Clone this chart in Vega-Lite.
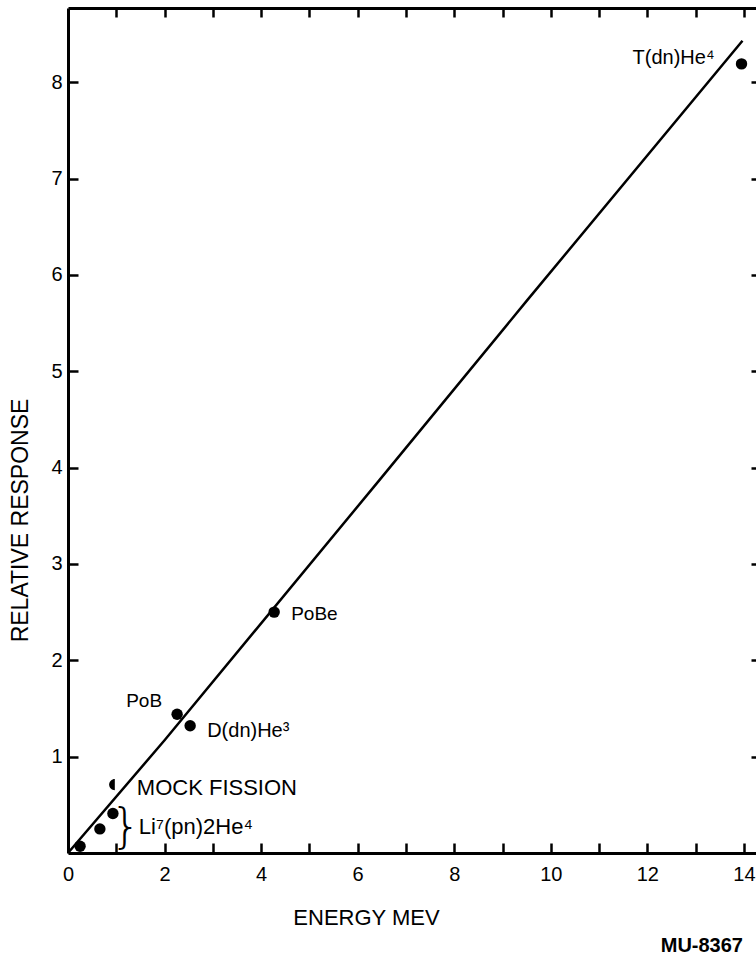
{
  "$schema": "https://vega.github.io/schema/vega-lite/v6.json",
  "width": 688,
  "height": 845,
  "autosize": {"type": "none"},
  "padding": {"left": 68, "top": 8, "right": 0, "bottom": 104},
  "background": "white",
  "title": {
    "text": "MU-8367",
    "orient": "bottom",
    "anchor": "end",
    "frame": "group",
    "font": "Liberation Sans",
    "fontSize": 20,
    "fontWeight": "bold",
    "color": "black",
    "dx": -13,
    "offset": 8
  },
  "config": {
    "view": {"stroke": null},
    "font": "Liberation Sans",
    "axis": {
      "grid": false,
      "domainColor": "black",
      "domainWidth": 3,
      "tickColor": "black",
      "tickWidth": 2.5,
      "labelColor": "black",
      "titleColor": "black",
      "labelFont": "Liberation Sans",
      "titleFont": "Liberation Sans",
      "titleFontWeight": "normal",
      "labelOverlap": false,
      "labelFlush": false
    }
  },
  "datasets": {
    "points": [
      {"energy": 0.25, "response": 0.07, "source": "Li7a", "label": ""},
      {"energy": 0.66, "response": 0.25, "source": "Li7b", "label": "Li⁷(pn)2He⁴"},
      {"energy": 0.93, "response": 0.41, "source": "Li7c", "label": ""},
      {"energy": 2.26, "response": 1.44, "source": "PoB", "label": "PoB"},
      {"energy": 2.53, "response": 1.32, "source": "DdnHe3", "label": "D(dn)He³"},
      {"energy": 4.27, "response": 2.5, "source": "PoBe", "label": "PoBe"},
      {"energy": 13.95, "response": 8.19, "source": "TdnHe4", "label": "T(dn)He⁴"}
    ],
    "mock": [
      {"energy": 0.97, "response": 0.71, "source": "Mock", "label": "MOCK FISSION"}
    ],
    "fit": [
      {"energy": 0, "response": 0},
      {"energy": 2.0, "response": 1.17},
      {"energy": 6.45, "response": 3.87},
      {"energy": 9.5, "response": 5.73},
      {"energy": 13.97, "response": 8.43}
    ]
  },
  "resolve": {"axis": {"x": "independent", "y": "independent"}},
  "layer": [
    {
      "data": {"name": "fit"},
      "mark": {"type": "line", "color": "black", "strokeWidth": 2.5},
      "encoding": {
        "x": {
          "field": "energy", "type": "quantitative",
          "scale": {"domain": [0, 14.25], "nice": false, "zero": false},
          "axis": {
            "orient": "bottom",
            "values": [0,2,4,6,8,10,12,14],
            "labelFontSize": 20,
            "ticks": false,
            "tickSize": 0,
            "labelPadding": 11,
            "title": "ENERGY MEV",
            "titleFontSize": 22,
            "titleX": 298,
            "titleY": 64,
            "titleAlign": "center",
            "titleBaseline": "middle"
          }
        },
        "y": {
          "field": "response", "type": "quantitative",
          "scale": {"domain": [0, 8.77], "nice": false, "zero": false},
          "axis": {
            "orient": "left",
            "values": [1,2,3,4,5,6,7,8],
            "labelFontSize": 20,
            "ticks": false,
            "tickSize": 0,
            "labelPadding": 6,
            "title": "RELATIVE RESPONSE",
            "titleFontSize": 23,
            "titleAngle": 270,
            "titleX": -48,
            "titleY": 512,
            "titleAlign": "center",
            "titleBaseline": "middle"
          }
        }
      }
    },
    {
      "data": {"name": "points"},
      "mark": {"type": "circle", "size": 130, "color": "black", "opacity": 1},
      "encoding": {
        "x": {
          "field": "energy", "type": "quantitative",
          "axis": {
            "orient": "top",
            "labels": false,
            "ticks": false,
            "title": null
          }
        },
        "y": {
          "field": "response", "type": "quantitative",
          "axis": {
            "orient": "right",
            "values": [1,2,3,4,5,6,7,8],
            "labels": false,
            "domain": false,
            "tickSize": 5,
            "offset": -5,
            "title": null
          }
        }
      }
    },
    {
      "data": {"name": "mock"},
      "mark": {"type": "point", "shape": "M0,-1 A1,1 0 0,0 0,1 Z", "size": 130, "filled": true, "color": "black", "opacity": 1},
      "encoding": {
        "x": {
          "field": "energy", "type": "quantitative",
          "axis": {
            "orient": "bottom",
            "values": [1,2,3,4,5,6,7,8,9,10,11,12,13,14],
            "labels": false,
            "domain": false,
            "tickSize": 10,
            "offset": -10,
            "title": null
          }
        },
        "y": {
          "field": "response", "type": "quantitative",
          "axis": {
            "orient": "left",
            "values": [1,2,3,4,5,6,7,8],
            "labels": false,
            "domain": false,
            "tickSize": 10,
            "offset": -10,
            "title": null
          }
        }
      }
    },
    {
      "data": {"name": "mock"},
      "mark": {"type": "text", "align": "left", "baseline": "middle", "dx": 22, "dy": 3, "fontSize": 22, "color": "black"},
      "encoding": {
        "x": {
          "field": "energy", "type": "quantitative",
          "axis": {
            "orient": "top",
            "values": [1,2,3,4,5,6,7,8,9,10,11,12,13,14],
            "labels": false,
            "domain": false,
            "tickSize": 9,
            "offset": -9,
            "title": null
          }
        },
        "y": {"field": "response", "type": "quantitative", "axis": null},
        "text": {"field": "label"}
      }
    },
    {
      "data": {"name": "points"},
      "transform": [{"filter": "datum.source == 'TdnHe4'"}],
      "mark": {"type": "text", "align": "right", "baseline": "alphabetic", "dx": -27, "dy": 0, "fontSize": 20, "color": "black"},
      "encoding": {
        "x": {"field": "energy", "type": "quantitative", "axis": null},
        "y": {"field": "response", "type": "quantitative", "axis": null},
        "text": {"field": "label"}
      }
    },
    {
      "data": {"name": "points"},
      "transform": [{"filter": "datum.source == 'PoBe'"}],
      "mark": {"type": "text", "align": "left", "baseline": "middle", "dx": 17, "dy": 2, "fontSize": 19, "color": "black"},
      "encoding": {
        "x": {"field": "energy", "type": "quantitative", "axis": null},
        "y": {"field": "response", "type": "quantitative", "axis": null},
        "text": {"field": "label"}
      }
    },
    {
      "data": {"name": "points"},
      "transform": [{"filter": "datum.source == 'PoB'"}],
      "mark": {"type": "text", "align": "right", "baseline": "middle", "dx": -15, "dy": -13, "fontSize": 19, "color": "black"},
      "encoding": {
        "x": {"field": "energy", "type": "quantitative", "axis": null},
        "y": {"field": "response", "type": "quantitative", "axis": null},
        "text": {"field": "label"}
      }
    },
    {
      "data": {"name": "points"},
      "transform": [{"filter": "datum.source == 'DdnHe3'"}],
      "mark": {"type": "text", "align": "left", "baseline": "middle", "dx": 17, "dy": 5, "fontSize": 20, "color": "black"},
      "encoding": {
        "x": {"field": "energy", "type": "quantitative", "axis": null},
        "y": {"field": "response", "type": "quantitative", "axis": null},
        "text": {"field": "label"}
      }
    },
    {
      "data": {"name": "points"},
      "transform": [{"filter": "datum.source == 'Li7b'"}],
      "mark": {"type": "text", "align": "left", "baseline": "middle", "dx": 39, "dy": -2, "fontSize": 22, "color": "black"},
      "encoding": {
        "x": {"field": "energy", "type": "quantitative", "axis": null},
        "y": {"field": "response", "type": "quantitative", "axis": null},
        "text": {"field": "label"}
      }
    },
    {
      "data": {"name": "points"},
      "transform": [{"filter": "datum.source == 'Li7b'"}],
      "mark": {"type": "text", "align": "center", "baseline": "middle", "dx": 26, "dy": 0, "fontSize": 48, "font": "DejaVu Sans", "fontWeight": 200, "color": "black", "text": "}"},
      "encoding": {
        "x": {"field": "energy", "type": "quantitative", "axis": null},
        "y": {"field": "response", "type": "quantitative", "axis": null}
      }
    }
  ]
}
